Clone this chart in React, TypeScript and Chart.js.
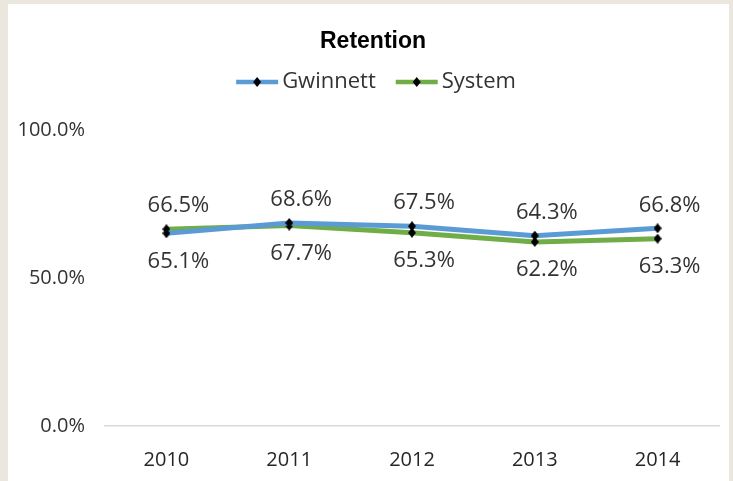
import React, { useEffect, useRef } from "react";
import { Chart, registerables } from "chart.js";

Chart.register(...registerables);

const categories = ["2010", "2011", "2012", "2013", "2014"];
const gwinnett = [65.1, 68.6, 67.5, 64.3, 66.8];
const system = [66.5, 67.7, 65.3, 62.2, 63.3];
const yTicks = [0, 50, 100];
const seriesNames = ["Gwinnett", "System"];
const seriesColors = ["#5b9bd5", "#70ad47"];

const TEXT = "#333333";
const FONT = "'Open Sans', 'Noto Sans', sans-serif";

function makeDiamond(): HTMLCanvasElement {
  const c = document.createElement("canvas");
  c.width = 8;
  c.height = 10;
  const g = c.getContext("2d")!;
  g.fillStyle = "#000";
  g.beginPath();
  g.moveTo(4, 0);
  g.lineTo(8, 5);
  g.lineTo(4, 10);
  g.lineTo(0, 5);
  g.closePath();
  g.fill();
  return c;
}

const decorPlugin = {
  id: "decor",
  afterDatasetsDraw(chart: any) {
    const ctx = chart.ctx;
    const datasets = chart.data.datasets;
    ctx.save();
    ctx.font = `22px ${FONT}`;
    ctx.fillStyle = TEXT;
    ctx.textAlign = "center";
    ctx.textBaseline = "middle";
    datasets.forEach((ds: any, di: number) => {
      const meta = chart.getDatasetMeta(di);
      const other = datasets[1 - di].data;
      meta.data.forEach((pt: any, i: number) => {
        const v = ds.data[i];
        const above = v >= other[i];
        const y = above ? pt.y - 23 : pt.y + 28;
        ctx.fillText(v.toFixed(1) + "%", pt.x + 12, y);
      });
    });
    ctx.restore();
  },
  afterDraw(chart: any) {
    const ctx = chart.ctx;
    ctx.save();
    ctx.font = `bold 23px 'Liberation Sans', Arial, sans-serif`;
    ctx.fillStyle = "#000";
    ctx.textAlign = "center";
    ctx.textBaseline = "middle";
    ctx.fillText("Retention", 365, 38);
    ctx.font = `22px ${FONT}`;
    const lineLen = 42;
    const gapText = 4;
    const gapItems = 20;
    const widths = seriesNames.map((n) => lineLen + gapText + ctx.measureText(n).width);
    const total = widths[0] + widths[1] + gapItems;
    let x = 368 - total / 2;
    const y = 78;
    seriesNames.forEach((n, i) => {
      ctx.strokeStyle = seriesColors[i];
      ctx.lineWidth = 4.5;
      ctx.beginPath();
      ctx.moveTo(x, y);
      ctx.lineTo(x + lineLen, y);
      ctx.stroke();
      ctx.fillStyle = "#000";
      ctx.beginPath();
      const cx = x + lineLen / 2;
      ctx.moveTo(cx, y - 5);
      ctx.lineTo(cx + 4, y);
      ctx.lineTo(cx, y + 5);
      ctx.lineTo(cx - 4, y);
      ctx.closePath();
      ctx.fill();
      ctx.fillStyle = TEXT;
      ctx.textAlign = "left";
      ctx.textBaseline = "middle";
      ctx.fillText(n, x + lineLen + gapText, y);
      x += widths[i] + gapItems;
    });
    ctx.restore();
  },
};

export default function App() {
  const ref = useRef<HTMLCanvasElement | null>(null);
  useEffect(() => {
    if (!ref.current) return;
    const diamond = makeDiamond();
    const chart = new Chart(ref.current, {
      type: "line",
      data: {
        labels: categories,
        datasets: [gwinnett, system].map((d, i) => ({
          label: seriesNames[i],
          data: d,
          borderColor: seriesColors[i],
          backgroundColor: seriesColors[i],
          borderWidth: 5,
          pointStyle: diamond as any,
          pointRadius: 5,
          pointHoverRadius: 5,
          tension: 0,
          fill: false,
        })),
      },
      options: {
        animation: false,
        responsive: false,
        maintainAspectRatio: false,
        events: [],
        layout: { padding: { top: 126, left: 0, right: 7, bottom: 8 } },
        plugins: {
          legend: { display: false },
          title: { display: false },
          tooltip: { enabled: false },
        },
        scales: {
          x: {
            offset: true,
            afterFit: (s: any) => {
              s.height = 47;
            },
            grid: { display: false, drawTicks: false },
            border: { display: true, color: "#d9d9d9", width: 1.5 },
            ticks: { color: "#262626", font: { family: FONT, size: 20 }, padding: 22 },
          },
          y: {
            min: 0,
            max: 100,
            afterBuildTicks: (s: any) => {
              s.ticks = yTicks.map((v) => ({ value: v }));
            },
            afterFit: (s: any) => {
              s.width = 97;
            },
            grid: { display: false, drawTicks: false },
            border: { display: false },
            ticks: {
              color: TEXT,
              font: { family: FONT, size: 20 },
              padding: 20,
              callback: (v: any) => Number(v).toFixed(1) + "%",
            },
          },
        },
      },
      plugins: [decorPlugin],
    });
    return () => chart.destroy();
  }, []);
  return (
    <div style={{ position: "fixed", left: 0, top: 0, width: 733, height: 481, background: "#ebe6de", overflow: "hidden" }}>
      <div style={{ position: "absolute", left: 8, top: 4, width: 721, height: 477, background: "#fff" }}>
        <canvas ref={ref} width={721} height={477} style={{ display: "block", width: 721, height: 477 }} />
      </div>
    </div>
  );
}
